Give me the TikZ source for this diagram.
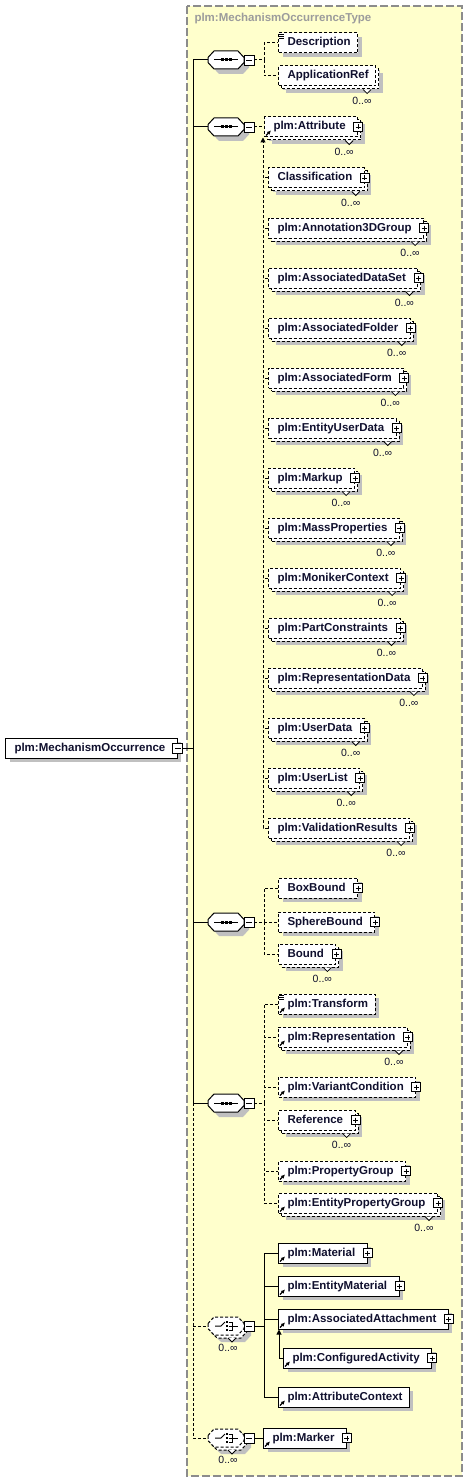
\documentclass[tikz,border=0pt]{standalone}
\usepackage{fontspec}
\setmainfont{Liberation Sans}
\usetikzlibrary{arrows.meta,positioning,shadows}
\definecolor{xsdyellow}{HTML}{FFFFCC}
\definecolor{xsdframe}{HTML}{8C8C8C}
\definecolor{xsdtitle}{HTML}{9C9C9C}
\definecolor{xsdshadow}{HTML}{C0C0C0}
\definecolor{xsdtext}{HTML}{10102E}

\begin{document}
\begin{tikzpicture}[
  x=1pt, y=-1pt, line width=1pt,
  opt/.style={dash pattern=on 3pt off 2pt},
  grey shadow/.style={general shadow={fill=xsdshadow, shadow xshift=#1, shadow yshift=-#1}},
  grey shadow/.default=4pt,
  typeframe/.style={draw=xsdframe, fill=xsdyellow, line width=1.3pt, dash pattern=on 8pt off 3pt},
  typename/.style={anchor=west, inner sep=0pt, text=xsdtitle, font=\fontsize{11.5}{13}\selectfont\bfseries},
  elem/.style={rectangle, draw, fill=white, grey shadow, anchor=west,
    minimum height=20pt, inner xsep=7pt, inner ysep=0pt,
    text height=8.5pt, text depth=2.5pt, text=xsdtext,
    font=\fontsize{11.5}{13}\selectfont\bfseries,
    execute at begin node={\hspace{2pt}}},
  multi/.style={grey shadow=7pt, general shadow={draw, fill=white, opt, shadow xshift=3pt, shadow yshift=-3pt}},
  expand/.style={execute at end node={\hspace{5pt}}},
  mult/.style={inner sep=0pt, text=xsdtext, font=\fontsize{10.5}{12}\selectfont},
  iconbox/.style={rectangle, draw, solid, fill=white, line width=.8pt, minimum size=#1, inner sep=0pt},
  plusicon/.style={iconbox=9pt, path picture={
    \draw[line width=.8pt] ([xshift=2pt]path picture bounding box.west) -- ([xshift=-2pt]path picture bounding box.east)
      ([yshift=-2pt]path picture bounding box.north) -- ([yshift=2pt]path picture bounding box.south);}},
  minusicon/.style={iconbox=10pt, path picture={
    \draw[line width=.8pt] ([xshift=2pt]path picture bounding box.west) -- ([xshift=-2pt]path picture bounding box.east);}},
  compositor/.style={rectangle, minimum width=35pt, minimum height=17pt, inner sep=0pt, anchor=west},
  octagon/.style={draw, fill=white, grey shadow=5pt},
  seqlook/.style={octagon},
  choicelook/.style={octagon, opt, multi},
  refarrow/.style={-{Latex[length=4pt,width=4pt]}, line width=1.3pt, solid},
  subst arrow/.style={-{Triangle[length=5pt,width=5pt]}}
]
\useasboundingbox (0,0) rectangle (469,1482);

% type frame
\draw[typeframe] (187,6) rectangle (462,1476);
\node[typename] (type) at (194,19) {plm:MechanismOccurrenceType};

% root element
\node[elem, expand] (root) at (5,748) {plm:MechanismOccurrence};
\node[minusicon] (root-m) at (root.east) {};

% compositors
\node[compositor] (seq1) at (208,60) {};
\node[compositor] (seq2) at (208,127) {};
\node[compositor] (seq3) at (208,922) {};
\node[compositor] (seq4) at (208,1103) {};
\node[compositor] (ch1) at (208,1326) {};
\node[compositor] (ch2) at (208,1438) {};
\foreach \s/\look in {seq1/seqlook,seq2/seqlook,seq3/seqlook,seq4/seqlook,ch1/choicelook,ch2/choicelook}
  \draw[\look] ([yshift=2.5pt]\s.west) -- ([xshift=6pt]\s.north west) -- ([xshift=-6pt]\s.north east)
    -- ([yshift=2.5pt]\s.east) -- ([yshift=-2.5pt]\s.east) -- ([xshift=-6pt]\s.south east)
    -- ([xshift=6pt]\s.south west) -- ([yshift=-2.5pt]\s.west) -- cycle;
\foreach \s in {seq1,seq2,seq3,seq4} {
  \draw ([xshift=-12pt]\s.center) -- ([xshift=12pt]\s.center);
  \foreach \d in {-4,0,4}
    \fill ([xshift=\d pt]\s.center) +(-1.5pt,-1.5pt) rectangle +(1.5pt,1.5pt);
}
\foreach \s in {ch1,ch2} {
  \draw ([xshift=-11pt]\s.center) -- ++(6pt,0) -- ++(4pt,4pt);
  \foreach \d in {-4,0,4}
    \fill ([shift={(1pt,\d pt)}]\s.center) +(-1.3pt,-1.3pt) rectangle +(1.3pt,1.3pt);
  \draw ([shift={(2.5pt,4pt)}]\s.center) -- ++(4pt,0) -- ++(0,-8pt) -- ++(-4pt,0)
    ([xshift=2.5pt]\s.center) -- ++(9pt,0);
}
\foreach \s in {seq1,seq2,seq3,seq4,ch1,ch2}
  \node[minusicon] (\s-m) at ([xshift=5pt]\s.east) {};

% sequence 1
\node[elem, opt] (desc) at (278,43) {Description};
\node[elem, opt, multi] (appref) at (278,76) {ApplicationRef};

% sequence 2, head and members of the substitution group
\node[elem, opt, multi, expand] (attr) at (264,127) {plm:Attribute};
\foreach \n/\lbl [count=\i from 0] in {classif/Classification, annot/plm:Annotation3DGroup,
    dataset/plm:AssociatedDataSet, folder/plm:AssociatedFolder, form/plm:AssociatedForm,
    entuser/plm:EntityUserData, markup/plm:Markup, mass/plm:MassProperties,
    moniker/plm:MonikerContext, constr/plm:PartConstraints, reprdata/plm:RepresentationData,
    userdata/plm:UserData, userlist/plm:UserList, valid/plm:ValidationResults}
  \node[elem, opt, multi, expand] (\n) at (268,{178+50*\i}) {\lbl};

% sequence 3
\node[elem, opt, expand] (boxbound) at (278,888) {BoxBound};
\node[elem, opt, expand] (spherebound) at (278,922) {SphereBound};
\node[elem, opt, multi, expand] (bound) at (278,954) {Bound};

% sequence 4
\node[elem, opt] (transform) at (278,1004) {plm:Transform};
\node[elem, opt, multi, expand] (repr) at (278,1037) {plm:Representation};
\node[elem, opt, expand] (variant) at (278,1087) {plm:VariantCondition};
\node[elem, opt, multi, expand] (reference) at (278,1120) {Reference};
\node[elem, opt, expand] (propgroup) at (278,1171) {plm:PropertyGroup};
\node[elem, opt, multi, expand] (entprop) at (278,1203) {plm:EntityPropertyGroup};

% choice 1
\node[elem, expand] (material) at (278,1253) {plm:Material};
\node[elem, expand] (entmat) at (278,1286) {plm:EntityMaterial};
\node[elem, expand] (assoc) at (278,1319) {plm:AssociatedAttachment};
\node[elem, expand] (config) at (283,1358) {plm:ConfiguredActivity};
\node[elem] (attrctx) at (278,1397) {plm:AttributeContext};

% choice 2
\node[elem, expand] (marker) at (263,1438) {plm:Marker};

% icons and occurrence labels
\foreach \n in {attr,classif,annot,dataset,folder,form,entuser,markup,mass,moniker,constr,reprdata,
    userdata,userlist,valid,boxbound,spherebound,bound,repr,variant,reference,propgroup,entprop,
    material,entmat,assoc,config,marker}
  \node[plusicon] (\n-p) at (\n.east) {};
\foreach \n in {appref,attr,classif,annot,dataset,folder,form,entuser,markup,mass,moniker,constr,
    reprdata,userdata,userlist,valid,bound,repr,reference,entprop} {
  \draw[fill=white, line width=.8pt] ([shift={(-13pt,-3pt)}]\n.south east) -- ++(4pt,-4pt) -- ++(4pt,4pt);
  \node[mult, anchor=east] (\n-mult) at ([shift={(-4pt,-14pt)}]\n.south east) {0..∞};
}
\foreach \n in {ch1,ch2} {
  \draw[fill=white, line width=.8pt] ([shift={(-16pt,-3pt)}]\n.south east) -- ++(4pt,-4pt) -- ++(4pt,4pt);
  \node[mult] (\n-mult) at ([shift={(2pt,-22pt)}]\n.center) {0..∞};
}
\foreach \n in {attr,transform,repr,variant,propgroup,entprop,material,entmat,assoc,config,attrctx,marker}
  \draw[refarrow] ([shift={(2pt,2pt)}]\n.south west) -- ++(5pt,5pt);
\foreach \n in {desc,transform}
  \foreach \k in {1.5,3.5,5.5}
    \draw[line width=.6pt] ([shift={(1pt,-\k pt)}]\n.north west) -- ++(5pt,0);

% trunk
\coordinate (trunk) at (193,748);
\draw (root-m.east) -- (trunk);
\draw (trunk |- seq1.west) -- (trunk |- seq4.west);
\draw[opt] (trunk |- seq4.west) -- (trunk |- ch2.west);
\foreach \s in {seq1,seq2,seq3,seq4}
  \draw (trunk |- \s.west) -- (\s.west);
\foreach \s in {ch1,ch2}
  \draw[opt] (trunk |- \s.west) -- (\s.west);

% branches
\foreach \n in {desc,appref}
  \draw[opt] (seq1-m.east) -- ++(10pt,0) |- (\n.west);
\draw[opt] (seq2-m.east) -- (attr.west);
\coordinate (subst) at ([xshift=-1pt]attr.south west);
\draw[opt, subst arrow] (valid.west) -| (subst);
\foreach \n in {classif,annot,dataset,folder,form,entuser,markup,mass,moniker,constr,reprdata,userdata,userlist}
  \draw[opt] (\n.west) -- (\n.west -| subst);
\foreach \n in {boxbound,spherebound,bound}
  \draw[opt] (seq3-m.east) -- ++(10pt,0) |- (\n.west);
\foreach \n in {transform,repr,variant,reference,propgroup,entprop}
  \draw[opt] (seq4-m.east) -- ++(10pt,0) |- (\n.west);
\foreach \n in {material,entmat,assoc,attrctx}
  \draw (ch1-m.east) -- ++(10pt,0) |- (\n.west);
\draw[subst arrow] (config.west) -| ([xshift=1pt]assoc.south west);
\draw (ch2-m.east) -- (marker.west);
\end{tikzpicture}
\end{document}
